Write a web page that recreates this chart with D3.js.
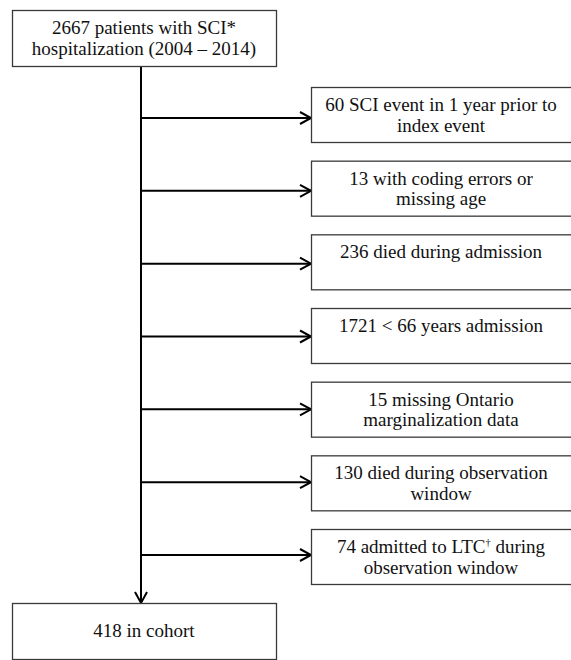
<!DOCTYPE html>
<html>
<head>
<meta charset="utf-8">
<script src="https://cdn.jsdelivr.net/npm/d3@7"></script>
<style>
  body { margin: 0; background: #fff; }
  svg text { font-family: 'Liberation Serif', 'Times New Roman', serif; fill: #111; }
</style>
</head>
<body>
<div id="chart"></div>
<script>
const width = 571;
const height = 660;

// flow data
const startLines = ['2667 patients with SCI*', 'hospitalization (2004 \u2013 2014)'];
const endLines = ['418 in cohort'];
const exclusions = [
  ['60 SCI event in 1 year prior to', 'index event'],
  ['13 with coding errors or', 'missing age'],
  ['236 died during admission'],
  ['1721 < 66 years admission'],
  ['15 missing Ontario', 'marginalization data'],
  ['130 died during observation', 'window'],
  ['74 admitted to LTC\u2020 during', 'observation window']
];

const svg = d3.select('#chart')
  .append('svg')
  .attr('width', width)
  .attr('height', height);

const spineX = 141;
const mainBox = { x: 12, w: 264, h: 56 };
const exBox = { x: 311, w: 280, h: 55, textW: 260 }; // box runs off the right edge
const fontSize = 19;
const lineH = 20.5;

const idx = d3.range(exclusions.length);
const boxY = d3.scalePoint().domain(idx).range([87, 529]);
const arrowY = d3.scalePoint().domain(idx).range([118, 555]);

function chevron(g, x, y, dir) {
  // open arrow head; dir 'right' or 'down'
  const pts = dir === 'right'
    ? [[x - 11, y - 6], [x, y], [x - 11, y + 6]]
    : [[x - 6, y - 11], [x, y], [x + 6, y - 11]];
  g.append('path')
    .attr('d', d3.line()(pts))
    .attr('fill', 'none')
    .attr('stroke', '#000')
    .attr('stroke-width', 2);
}

function box(x, y, w, h, lines, topAlign, textW) {
  const g = svg.append('g');
  g.append('rect')
    .attr('x', x + 0.5).attr('y', y + 0.5)
    .attr('width', w).attr('height', h)
    .attr('fill', '#fff')
    .attr('stroke', '#3a3a3a')
    .attr('stroke-width', 1.3);
  const first = topAlign ? y + 24 : y + h / 2 + 6;
  const cx = x + (textW || w) / 2;
  const t = g.selectAll('text')
    .data(lines)
    .join('text')
    .attr('x', cx)
    .attr('y', (d, i) => first + i * lineH)
    .attr('text-anchor', 'middle')
    .attr('font-size', fontSize);
  t.each(function(d) {
    const el = d3.select(this);
    const parts = d.split('\u2020');
    parts.forEach((p, k) => {
      if (k > 0) {
        el.append('tspan').attr('font-size', fontSize * 0.55)
          .attr('dy', -7).text('\u2020');
        el.append('tspan').attr('dy', 7).text(p);
      } else {
        el.append('tspan').text(p);
      }
    });
  });
}

// main spine
const lines = svg.append('g');
lines.append('line')
  .attr('x1', spineX).attr('x2', spineX)
  .attr('y1', 66).attr('y2', 603)
  .attr('stroke', '#000').attr('stroke-width', 2);
chevron(lines, spineX, 603, 'down');

// side arrows
idx.forEach(i => {
  lines.append('line')
    .attr('x1', spineX).attr('x2', exBox.x)
    .attr('y1', arrowY(i)).attr('y2', arrowY(i))
    .attr('stroke', '#000').attr('stroke-width', 2);
  chevron(lines, exBox.x, arrowY(i), 'right');
});

box(mainBox.x, 10, mainBox.w, mainBox.h, startLines, true);
box(mainBox.x, 603, mainBox.w, mainBox.h, endLines, false);
exclusions.forEach((t, i) => box(exBox.x, boxY(i), exBox.w, exBox.h, t, true, exBox.textW));
</script>
</body>
</html>
